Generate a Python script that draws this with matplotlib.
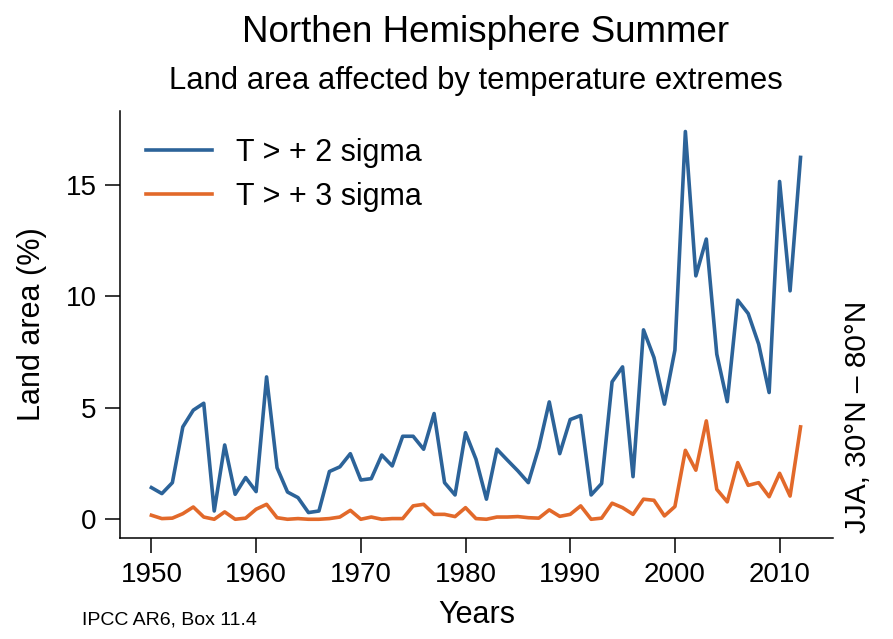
import matplotlib
matplotlib.use("Agg")
import matplotlib.pyplot as plt

years = list(range(1950, 2013))
sigma2 = [1.42, 1.15, 1.64, 4.14, 4.89, 5.20, 0.37, 3.33, 1.12, 1.87,
          1.24, 6.38, 2.31, 1.22, 0.97, 0.30, 0.37, 2.14, 2.35, 2.94,
          1.76, 1.82, 2.88, 2.39, 3.72, 3.72, 3.14, 4.74, 1.64, 1.09,
          3.88, 2.69, 0.90, 3.14, 2.65, 2.17, 1.64, 3.21, 5.26, 2.94,
          4.47, 4.65, 1.09, 1.60, 6.16, 6.83, 1.91, 8.49, 7.25, 5.16,
          7.58, 17.38, 10.91, 12.56, 7.40, 5.27, 9.82, 9.22, 7.85, 5.68,
          15.14, 10.24, 16.22]
sigma3 = [0.18, 0.03, 0.05, 0.25, 0.55, 0.10, 0.00, 0.33, 0.00, 0.05,
          0.45, 0.67, 0.07, 0.00, 0.03, 0.00, 0.00, 0.03, 0.10, 0.40,
          0.00, 0.10, 0.00, 0.03, 0.03, 0.60, 0.67, 0.22, 0.22, 0.12,
          0.52, 0.03, 0.00, 0.10, 0.10, 0.12, 0.07, 0.05, 0.42, 0.13,
          0.22, 0.60, 0.00, 0.05, 0.72, 0.52, 0.22, 0.90, 0.85, 0.15,
          0.57, 3.09, 2.20, 4.41, 1.34, 0.78, 2.54, 1.52, 1.64, 1.01,
          2.06, 1.04, 4.14]
labels = ["T > + 2 sigma", "T > + 3 sigma"]
xticks = [1950, 1960, 1970, 1980, 1990, 2000, 2010]
yticks = [0, 5, 10, 15]

plt.rcParams['font.family'] = ['Liberation Sans', 'DejaVu Sans']

W, H = 893, 639
fig = plt.figure(figsize=(W / 100, H / 100), dpi=100)
ax = fig.add_axes([120 / W, (H - 538) / H, (833 - 120) / W, (538 - 111) / H])

blue = '#2c6399'
orange = '#e2692a'
ax.plot(years, sigma2, color=blue, lw=2.6, label=labels[0])
ax.plot(years, sigma3, color=orange, lw=2.6, label=labels[1])

ax.set_xlim(1947, 2015.1)
ax.set_ylim(-0.84, 18.3)
ax.set_xticks(xticks)
ax.set_yticks(yticks)
ax.tick_params(axis='both', labelsize=20, length=11, width=1.1, direction='out', pad=6)
for s in ['top', 'right']:
    ax.spines[s].set_visible(False)
for s in ['left', 'bottom']:
    ax.spines[s].set_linewidth(1.1)

ax.set_ylabel('Land area (%)', fontsize=22, labelpad=13)
ax.set_xlabel('Years', fontsize=22, labelpad=9)

leg = ax.legend(loc='upper left', bbox_to_anchor=(26 / 713, 1 - 27 / 427), frameon=False,
                fontsize=22, handlelength=2.15, handletextpad=0.78, labelspacing=0.45,
                borderpad=0, borderaxespad=0)

fig.text(486 / W, 1 - 33 / H, 'Northen Hemisphere Summer', fontsize=26.5, ha='center', va='center')
fig.text(476 / W, 1 - 81 / H, 'Land area affected by temperature extremes', fontsize=22.3,
         ha='center', va='center')
fig.text(858 / W, (H - 533) / H, 'JJA, 30°N – 80°N', fontsize=21.5, rotation=90,
         ha='center', va='bottom')
fig.text(82 / W, 1 - 620 / H, 'IPCC AR6, Box 11.4', fontsize=14, ha='left', va='center')

fig.savefig('out.png', dpi=100)
